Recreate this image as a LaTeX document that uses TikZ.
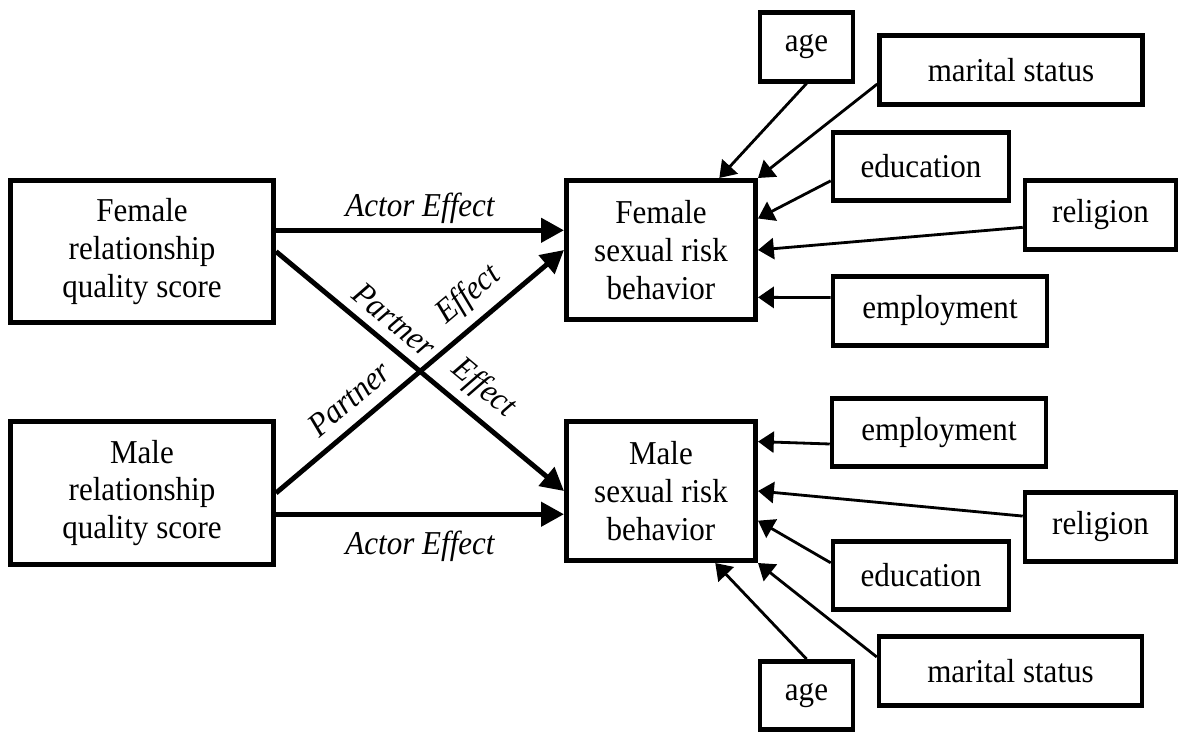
\documentclass[tikz,border=0pt]{standalone}
\usepackage{fontspec}
\setmainfont{Liberation Serif}[FakeStretch=0.93]
\usetikzlibrary{arrows.meta}

\begin{document}
\begin{tikzpicture}[x=0.02cm,y=-0.02cm,font=\fontsize{19}{21.5}\selectfont,
   bx/.style={draw,line width=2.6pt,align=center,inner sep=0pt},
   big/.style={bx,minimum width=5.27cm,minimum height=2.85cm},
   rsk/.style={bx,minimum width=3.79cm,minimum height=2.79cm},
   cv/.style={bx,minimum height=1.37cm},
   ae/.style={line width=2.8pt,-{Triangle[length=13pt,width=13.5pt]}},
   ce/.style={line width=1.6pt,-{Triangle[length=9pt,width=12pt]}},
   lb/.style={font=\fontsize{19}{21.5}\selectfont\itshape}]
\useasboundingbox (0,0) rectangle (1184,735);
%% ---- dyad: relationship quality -> sexual risk ----
\node[big] (frq) at (142,251.5) {Female\\relationship\\quality score};
\node[big] (mrq) at (142,493) {Male\\relationship\\quality score};
\node[rsk] (fsrb) at (661,250) {Female\\sexual risk\\behavior};
\node[rsk] (msrb) at (661,491) {Male\\sexual risk\\behavior};
\draw[ae] (frq.9) -- (frq.9 -| fsrb.west) node[midway,above=-1pt,lb] {Actor Effect};
\draw[ae] (mrq.-9) -- (mrq.-9 -| msrb.west) node[midway,below=5pt,lb] {Actor Effect};
\draw[ae] (frq.east) -- (msrb.west)
  node[pos=0.36,sloped,above=2pt,lb] {Partner}
  node[pos=0.66,sloped,above=2pt,lb] {Effect};
\draw[ae] (mrq.east) -- (fsrb.west)
  node[pos=0.31,sloped,above=3pt,lb] {Partner}
  node[pos=0.73,sloped,above=2pt,lb] {Effect};
%% ---- covariates, female ----
\node[cv,minimum width=1.86cm] (ageF) at (806.5,47) {age};
\node[cv,minimum width=5.26cm] (marF) at (1011,70) {marital status};
\node[cv,minimum width=3.52cm] (eduF) at (921,166.5) {education};
\node[cv,minimum width=3.02cm] (relF) at (1100.5,215) {religion};
\node[cv,minimum width=4.28cm] (empF) at (940,311) {employment};
\draw[ce] (ageF.south) -- (fsrb.51);
\draw[ce] (marF.186) -- (fsrb.north east);
\draw[ce] (eduF.189) -- (fsrb.18);
\draw[ce] (relF.189) -- (fsrb.east);
\draw[ce] (empF.173) -- (fsrb.-26);
%% ---- covariates, male ----
\node[cv,minimum width=4.28cm] (empM) at (939,432.5) {employment};
\node[cv,minimum width=3.02cm] (relM) at (1100.5,527) {religion};
\node[cv,minimum width=3.52cm] (eduM) at (921,575.5) {education};
\node[cv,minimum width=5.26cm] (marM) at (1010.5,671) {marital status};
\node[cv,minimum width=1.86cm] (ageM) at (806.5,695.5) {age};
\draw[ce] (empM.186) -- (msrb.27);
\draw[ce] (relM.172) -- (msrb.east);
\draw[ce] (eduM.172) -- (msrb.-17);
\draw[ce] (marM.174) -- (msrb.south east);
\draw[ce] (ageM.north) -- (msrb.-53);
\end{tikzpicture}
\end{document}
